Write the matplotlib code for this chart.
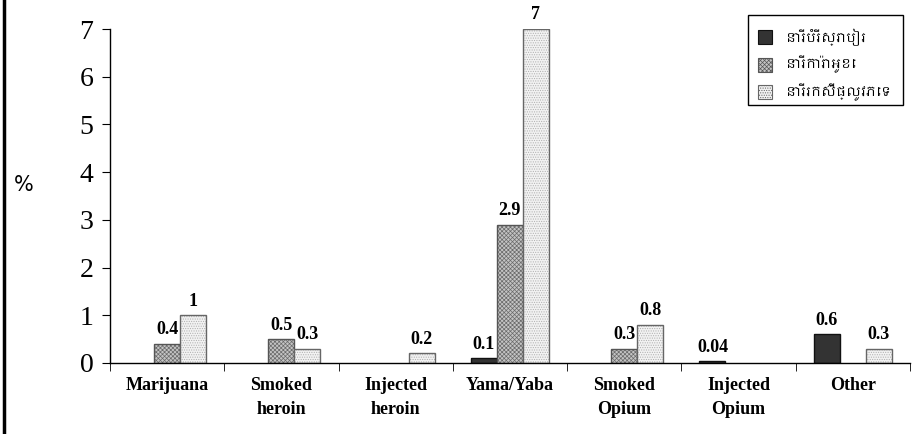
import numpy as np
import matplotlib
matplotlib.use('Agg')
from matplotlib import pyplot as plt
from matplotlib import font_manager

# 数据
categories = ['Marijuana', 'Smoked\nheroin', 'Injected\nheroin', 'Yama/Yaba',
              'Smoked\nOpium', 'Injected\nOpium', 'Other']
beer_girls = [np.nan, np.nan, np.nan, 0.1, np.nan, 0.04, 0.6]
karaoke_girls = [0.4, 0.5, np.nan, 2.9, 0.3, np.nan, np.nan]
sex_workers = [1, 0.3, 0.2, 7, 0.8, np.nan, 0.3]
labels_b = ['', '', '', '0.1', '', '0.04', '0.6']
labels_k = ['0.4', '0.5', '', '2.9', '0.3', '', '']
labels_s = ['1', '0.3', '0.2', '7', '0.8', '', '0.3']
series_names = ['នារីបំរើស្រាបៀរ', 'នារីការ៉ាអូខេ', 'នារីរកស៊ីផ្លូវភេទ']

plt.rcParams['font.family'] = ['Liberation Serif', 'DejaVu Serif']
plt.rcParams['hatch.linewidth'] = 0.5

W, H = 916, 434
fig = plt.figure(figsize=(W / 100, H / 100), dpi=100)
ax = fig.add_axes([0.120, 0.1636, 0.8734, 0.7695])

x = np.arange(len(categories))
w = 0.228
# 填充色, 花纹色, 花纹, 边框色
styles = [
    ('#333333', '#333333', None, '#111111'),
    ('#c4c4c4', '#6a6a6a', 'xxxxxxxx', '#555555'),
    ('#f2f2f2', '#b0b0b0', '.......', '#666666'),
]
for i, (vals, labs) in enumerate(zip([beer_girls, karaoke_girls, sex_workers],
                                     [labels_b, labels_k, labels_s])):
    fc, hc, hatch, ec = styles[i]
    pos = x + (i - 1) * w
    # 先画填充和花纹, 再画边框
    ax.bar(pos, vals, width=w, facecolor=fc, edgecolor=hc, hatch=hatch,
           linewidth=0)
    ax.bar(pos, vals, width=w, facecolor='none', edgecolor=ec, linewidth=1.0)
    for xx, v, t in zip(pos, vals, labs):
        if t:
            ax.annotate(t, (xx, v), xytext=(0, 4), textcoords='offset points',
                        ha='center', va='bottom', fontsize=13, fontweight='bold')

ax.set_xlim(-0.5, len(categories) - 0.5)
ax.set_ylim(0, 7)
ax.set_yticks(range(8))
ax.tick_params(axis='y', labelsize=20, length=6, direction='out', pad=6)
ax.set_xticks(x)
ax.set_xticklabels(categories, fontsize=13, fontweight='bold', linespacing=1.55)
ax.tick_params(axis='x', which='major', length=0, pad=10)
ax.set_xticks(np.arange(len(categories) + 1) - 0.5, minor=True)
ax.tick_params(axis='x', which='minor', length=6, direction='out')
for s in ['top', 'right']:
    ax.spines[s].set_visible(False)
for s in ['left', 'bottom']:
    ax.spines[s].set_linewidth(1.0)

fig.text(0.015, 0.574, '%', fontsize=15, family='DejaVu Sans', va='center')
fig.add_artist(plt.Line2D([0.004, 0.004], [0, 1], color='black', lw=2.5))

# 手动画图例 (像素坐标, 从上往下)
def fx(px):
    return px / W

def fy(py):
    return 1 - py / H

khmer = [f.name for f in font_manager.fontManager.ttflist if 'Khmer' in f.name]
fams = (khmer[:1] if khmer else []) + ['DejaVu Sans']
fig.add_artist(plt.Rectangle((fx(748), fy(105)), fx(903) - fx(748), fy(15) - fy(105),
                             transform=fig.transFigure, facecolor='white',
                             edgecolor='black', linewidth=1.0, zorder=5))
for k, (name, st) in enumerate(zip(series_names, styles)):
    fc, hc, hatch, ec = st
    cy = 37 + k * 27.5
    fig.add_artist(plt.Rectangle((fx(758), fy(cy + 7)), fx(772) - fx(758), fy(cy - 7) - fy(cy + 7),
                                 transform=fig.transFigure, facecolor=fc,
                                 edgecolor=ec, hatch=hatch, linewidth=0.8, zorder=6))
    fig.text(fx(786), fy(cy), name, family=fams, fontsize=9.5, va='center',
             ha='left', zorder=7)

plt.savefig('out.png', dpi=100)
